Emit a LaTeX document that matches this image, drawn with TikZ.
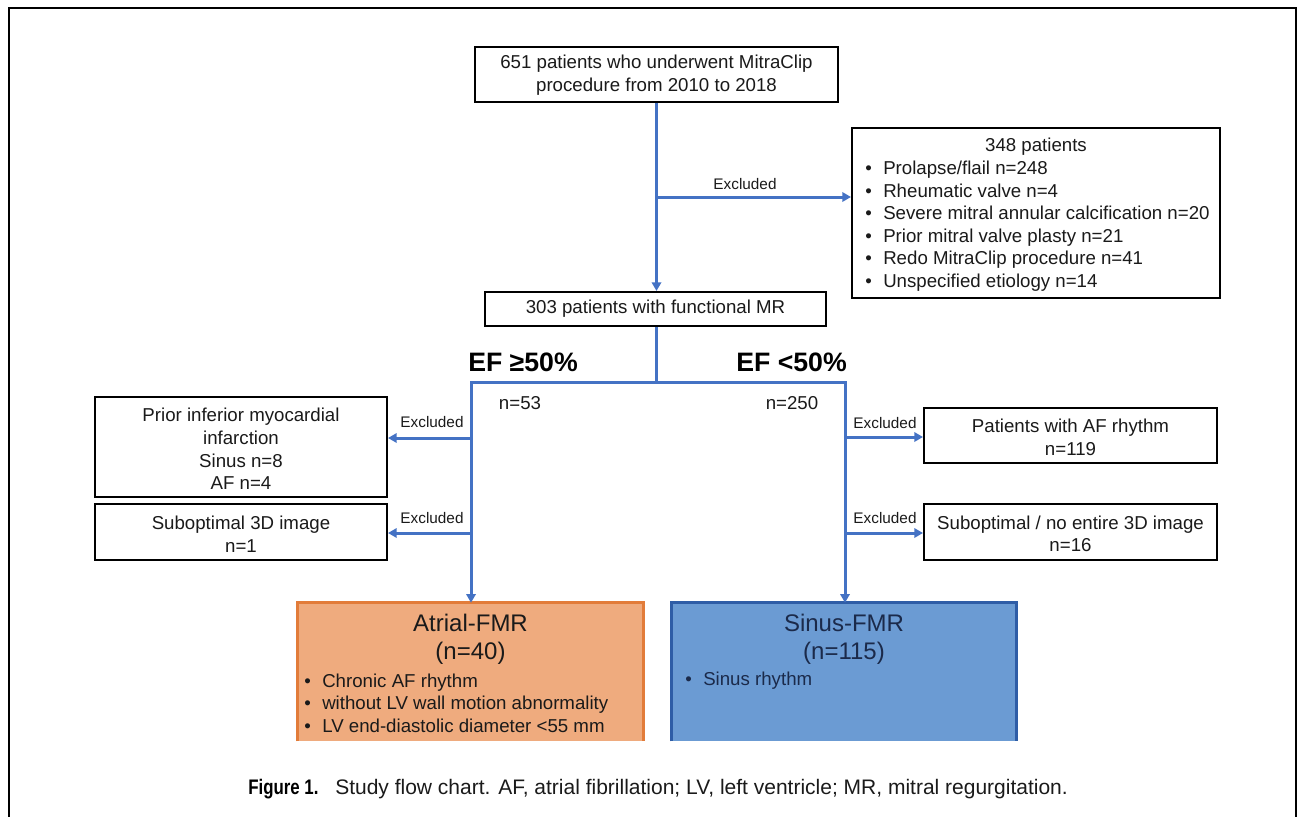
\documentclass[tikz,border=0pt]{standalone}
\usepackage{fontspec}
\setmainfont{Liberation Sans}
\newfontfamily\condfont[FakeStretch=0.8]{Liberation Sans}
\usetikzlibrary{arrows.meta}
\definecolor{flowblue}{HTML}{4472C4}
\definecolor{txt}{HTML}{1A1A1A}
\definecolor{orfill}{HTML}{EFAB7E}
\definecolor{ordraw}{HTML}{E27C3A}
\definecolor{blfill}{HTML}{6B9BD3}
\definecolor{bldraw}{HTML}{2F5DA6}
\definecolor{bltext}{HTML}{1B2A4A}
\tikzset{
  box/.style={draw=black, line width=1.5pt, fill=white, rectangle, inner sep=0pt},
  body/.style={font=\fontsize{14pt}{16.9pt}\selectfont, text=txt, inner sep=0pt, align=center},
  listtxt/.style={font=\fontsize{14pt}{16.9pt}\selectfont, text=txt, inner sep=0pt, align=left, anchor=west},
  exlabel/.style={font=\fontsize{11.5pt}{13pt}\selectfont, text=txt, inner sep=0pt},
  eflabel/.style={font=\fontsize{20pt}{24pt}\selectfont\bfseries, text=black, inner sep=0pt},
  conn/.style={draw=flowblue, line width=2.25pt},
  arr/.style={conn, -{Triangle[length=6.5pt,width=7pt]}},
  grpbox/.style={rectangle, inner sep=0pt},
  grpedge/.style={line width=2.25pt},
  grphead/.style={font=\fontsize{18pt}{21pt}\selectfont, inner sep=0pt, align=center},
}
\newcommand{\bitem}[1]{\makebox[13.5pt][l]{\textbullet}#1}
\begin{document}
\begin{tikzpicture}[x=0.75pt,y=-0.75pt]
\useasboundingbox (0,0) rectangle (1300,817);
% frame
\draw[line width=1.5pt] (9,817) -- (9,8) -- (1296,8) -- (1296,817);

% top box
\node[box, minimum width=272.25pt, minimum height=41.25pt] (top) at (656.5,74.5) {};
\node[body] (toptxt) at (656.5,75) {651 patients who underwent MitraClip\\procedure from 2010 to 2018};

% excluded box
\node[box, minimum width=276pt, minimum height=127.5pt] (excl) at (1036,213) {};
\node[body] (exclhead) at (1036,147) {348 patients};
\node[listtxt] (excllist) at (865,226) {\bitem{Prolapse/flail n=248}\\\bitem{Rheumatic valve n=4}\\\bitem{Severe mitral annular calcification n=20}\\\bitem{Prior mitral valve plasty n=21}\\\bitem{Redo MitraClip procedure n=41}\\\bitem{Unspecified etiology n=14}};

% 303 box
\node[box, minimum width=255.75pt, minimum height=25.5pt] (fmr) at (655.5,309) {};
\node[body] (fmrtxt) at (655.5,309) {303 patients with functional MR};

% EF labels
\node[eflabel, anchor=west] (efhi) at (468,362) {EF ≥50\%};
\node[eflabel, anchor=east] (eflo) at (847,362) {EF <50\%};
\node[body] (n53) at (520,403) {n=53};
\node[body] (n250) at (792,403) {n=250};

% left exclusion boxes
\node[box, minimum width=219pt, minimum height=75pt] (lb1) at (241,447) {};
\node[body] (lb1txt) at (241,449) {Prior inferior myocardial\\infarction\\Sinus n=8\\AF n=4};
\node[box, minimum width=219pt, minimum height=42pt] (lb2) at (241,532) {};
\node[body] (lb2txt) at (241,534) {Suboptimal 3D image\\n=1};

% right exclusion boxes
\node[box, minimum width=219.75pt, minimum height=41.25pt] (rb1) at (1070.5,435.5) {};
\node[body] (rb1txt) at (1070.5,437.5) {Patients with AF rhythm\\n=119};
\node[box, minimum width=219.75pt, minimum height=42pt] (rb2) at (1070.5,532) {};
\node[body] (rb2txt) at (1070.5,534) {Suboptimal / no entire 3D image\\n=16};

% group boxes (cut off at the bottom)
\node[grpbox, fill=orfill, minimum width=258.75pt, minimum height=103.5pt] (atrial) at (470.5,672) {};
\draw[grpedge, draw=ordraw] (atrial.south west) -- (atrial.north west) -- (atrial.north east) -- (atrial.south east);
\node[grphead, text=txt] (atrialhead) at (470.5,639) {Atrial-FMR\\(n=40)};
\node[listtxt] (atriallist) at (304,703) {\bitem{Chronic AF rhythm}\\\bitem{without LV wall motion abnormality}\\\bitem{LV end-diastolic diameter <55 mm}};
\node[grpbox, fill=blfill, minimum width=258pt, minimum height=103.5pt] (sinus) at (844,672) {};
\draw[grpedge, draw=bldraw] (sinus.south west) -- (sinus.north west) -- (sinus.north east) -- (sinus.south east);
\node[grphead, text=bltext] (sinushead) at (844,639) {Sinus-FMR\\(n=115)};
\node[listtxt, text=bltext] (sinuslist) at (685,681) {\bitem{Sinus rhythm}};

% connectors
\draw[arr] (top.south) -- (top.south |- fmr.north);
\coordinate (bx) at (656.5,197);
\draw[arr] (bx) -- (bx -| excl.west);
\node[exlabel] (exl0) at (745,184) {Excluded};

\coordinate (split) at (656,382);
\coordinate (lt) at (471,382);
\coordinate (rt) at (845,382);
\draw[conn] (fmr.south -| split) -- (split);
\draw[arr] (split) -- (lt) -- (lt |- atrial.north);
\draw[arr] (split) -- (rt) -- (rt |- sinus.north);

\coordinate (l1) at (471,438);
\coordinate (l2) at (471,533);
\coordinate (r1) at (845,437);
\coordinate (r2) at (845,533);
\draw[arr] (l1) -- (l1 -| lb1.east);
\draw[arr] (l2) -- (l2 -| lb2.east);
\draw[arr] (r1) -- (r1 -| rb1.west);
\draw[arr] (r2) -- (r2 -| rb2.west);
\node[exlabel] (exl1) at (432,422) {Excluded};
\node[exlabel] (exl2) at (432,518) {Excluded};
\node[exlabel] (exr1) at (885,423) {Excluded};
\node[exlabel] (exr2) at (885,518) {Excluded};

% caption
\node[anchor=base west, inner sep=0pt, font=\condfont\bfseries\fontsize{15.8pt}{18pt}\selectfont] (capfig) at (248,794) {Figure 1.};
\node[anchor=base west, inner sep=0pt, font=\fontsize{15.75pt}{18pt}\selectfont, text=txt] (captxt) at (335,794) {Study flow chart. AF, atrial fibrillation; LV, left ventricle; MR, mitral regurgitation.};
\end{tikzpicture}
\end{document}
